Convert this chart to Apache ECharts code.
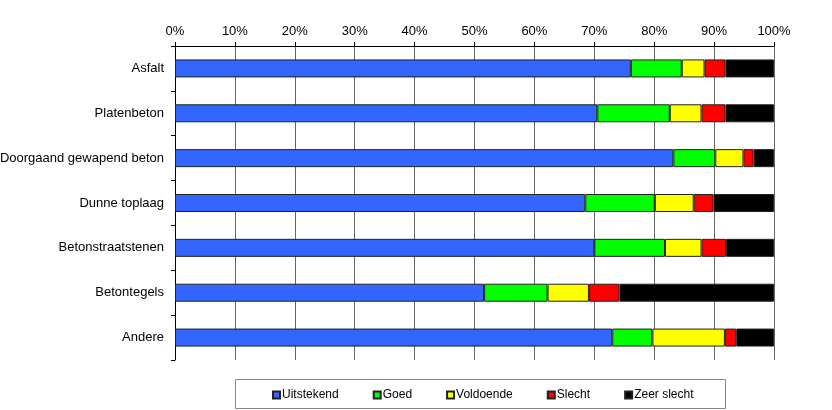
<!DOCTYPE html>
<html>
<head>
<meta charset="utf-8">
<script src="https://cdn.jsdelivr.net/npm/echarts@6/dist/echarts.min.js"></script>
<style>html,body{margin:0;padding:0;background:#fff}#c{width:832px;height:410px}</style>
</head>
<body>
<div id="c"></div>
<script>
const categories = ["Asfalt","Platenbeton","Doorgaand gewapend beton","Dunne toplaag","Betonstraatstenen","Betontegels","Andere"];
const seriesNames = ["Uitstekend","Goed","Voldoende","Slecht","Zeer slecht"];
const uitstekend = [76.1, 70.5, 83.2, 68.5, 70.0, 51.6, 73.0];
const goed       = [8.5, 12.1, 7.0, 11.6, 11.8, 10.6, 6.7];
const voldoende  = [3.8, 5.3, 4.7, 6.5, 6.1, 6.9, 12.1];
const slecht     = [3.5, 4.0, 1.7, 3.3, 4.1, 5.1, 1.9];
const zeerSlecht = [8.1, 8.1, 3.4, 10.1, 8.0, 25.8, 6.3];
const colors = ["#3366FF","#00FF00","#FFFF00","#FF0000","#000000"];
const values = [uitstekend, goed, voldoende, slecht, zeerSlecht];

const chart = echarts.init(document.getElementById('c'));
const font = "'Liberation Sans', Arial, sans-serif";
chart.setOption({
  animation: false,
  textStyle: { fontFamily: font, color: '#000' },
  grid: { left: 175, right: 58, top: 46, bottom: 50, containLabel: false, outerBoundsMode: 'none' },
  xAxis: {
    type: 'value', position: 'top', min: 0, max: 100, interval: 10,
    axisLabel: { formatter: '{value}%', color: '#000', fontSize: 13, fontFamily: font, margin: 8 },
    axisLine: { show: true, lineStyle: { color: '#000', width: 1 } },
    axisTick: { show: true, length: 4, lineStyle: { color: '#000' } },
    splitLine: { show: true, lineStyle: { color: '#666', width: 1 } }
  },
  yAxis: {
    type: 'category', inverse: true, data: categories,
    axisLabel: { color: '#000', fontSize: 13, fontFamily: font, margin: 11 },
    axisLine: { show: true, lineStyle: { color: '#000', width: 1 } },
    axisTick: { show: true, length: 4, lineStyle: { color: '#000' } }
  },
  legend: {
    left: 267, top: 384, itemWidth: 7, itemHeight: 7, itemGap: 34,
    textStyle: { fontSize: 12, color: '#000', fontFamily: font, padding: [0,0,0,-3] },
    data: seriesNames.map(n => ({ name: n, icon: 'rect' }))
  },
  graphic: [{
    type: 'rect', left: 235, top: 379, z: -1,
    shape: { width: 490, height: 29 },
    style: { fill: '#fff', stroke: '#888', lineWidth: 1 }
  }],
  series: seriesNames.map((n, i) => ({
    name: n, type: 'bar', stack: 'total', barWidth: 18,
    data: values[i],
    itemStyle: { color: colors[i], borderColor: '#222', borderWidth: 1 }
  }))
});
</script>
</body>
</html>
